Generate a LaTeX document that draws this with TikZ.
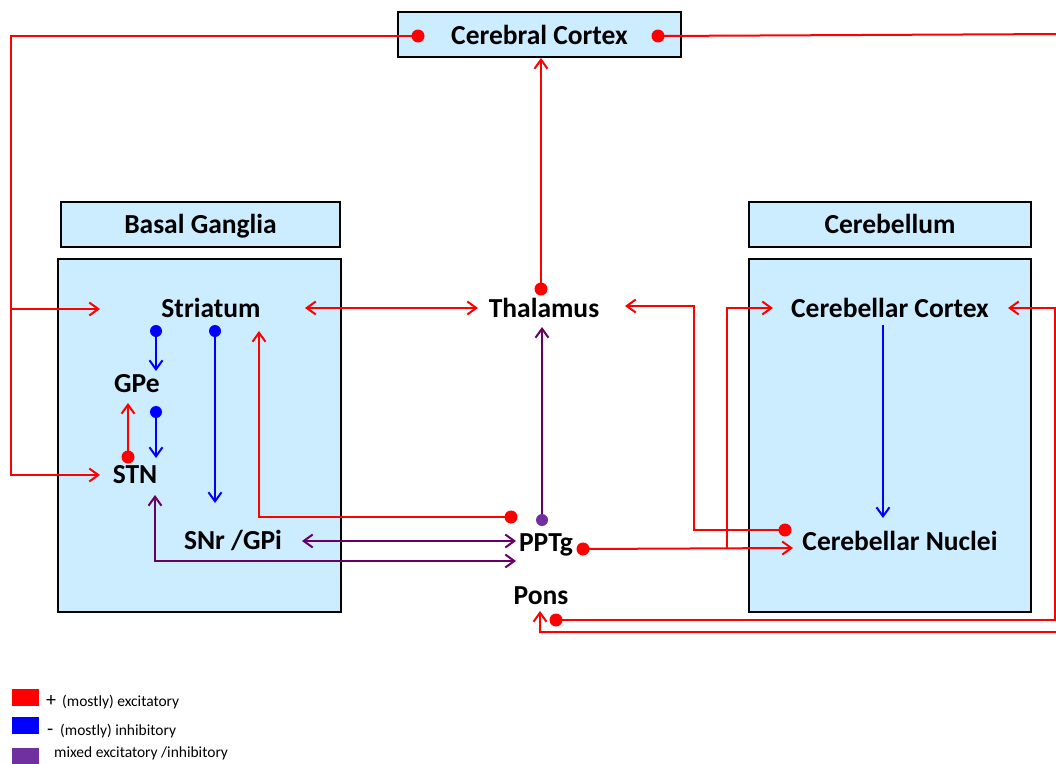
\documentclass[tikz,border=0pt]{standalone}
\usepackage{fontspec}
\setmainfont{Carlito}
\usetikzlibrary{arrows.meta}
\definecolor{boxblue}{RGB}{204,236,255}
\definecolor{ered}{RGB}{255,0,0}
\definecolor{iblue}{RGB}{0,0,255}
\definecolor{mpurple}{RGB}{102,0,102}
\definecolor{lpurple}{RGB}{112,48,160}
\begin{document}
\begin{tikzpicture}[x=1pt,y=-1pt,
  region/.style={draw=black,line width=2.2pt,fill=boxblue,inner sep=0pt},
  lbl/.style={font=\fontsize{27.5}{32}\selectfont\bfseries,inner sep=0pt},
  leg/.style={font=\fontsize{15.5}{18}\selectfont,inner sep=0pt,anchor=base west},
  tip/.style={-{Straight Barb[length=9pt,width=13pt,line width=2pt]}},
  tips/.style={{Straight Barb[length=9pt,width=13pt,line width=2pt]}-{Straight Barb[length=9pt,width=13pt,line width=2pt]}},
  exc/.style={draw=ered,line width=2pt},
  inh/.style={draw=iblue,line width=2pt},
  mix/.style={draw=mpurple,line width=2pt},
  rdot/.style={fill=ered},
  bdot/.style={fill=iblue},
  pdot/.style={fill=lpurple},
]
\useasboundingbox (0,0) rectangle (1056,763);

% boxes
\node[region,minimum width=283pt,minimum height=45pt] (cc) at (539.5,34.5) {};
\node[lbl,anchor=base] (cctxt) at (539.5,44) {Cerebral Cortex};
\node[region,minimum width=279pt,minimum height=45pt] (bglbl) at (200.5,224.5) {};
\node[lbl,anchor=base] (bgtxt) at (200.5,233) {Basal Ganglia};
\node[region,minimum width=283pt,minimum height=353pt] (bg) at (199.5,435.5) {};
\node[region,minimum width=282pt,minimum height=45pt] (cblbl) at (890,224.5) {};
\node[lbl,anchor=base] (cbtxt) at (890,233) {Cerebellum};
\node[region,minimum width=282pt,minimum height=353pt] (cb) at (890,435.5) {};

% labels
\node[lbl,anchor=base] (str) at (211,317) {Striatum};
\node[lbl,anchor=base] (thal) at (544,317) {Thalamus};
\node[lbl,anchor=base] (ccx) at (890,317) {Cerebellar Cortex};
\node[lbl,anchor=base] (gpe) at (137,392) {GPe};
\node[lbl,anchor=base] (stn) at (135,483) {STN};
\node[lbl,anchor=base] (snr) at (233,549) {SNr /GPi};
\node[lbl,anchor=base] (pptg) at (546,551) {PPTg};
\node[lbl,anchor=base] (cbn) at (900,550) {Cerebellar Nuclei};
\node[lbl,anchor=base] (pons) at (541,604) {Pons};

% coordinates
\coordinate (ccL) at (418,36);
\coordinate (ccR) at (658,36);
\coordinate (strIn) at (100,309);
\coordinate (stnIn) at (100,475);
\coordinate (strE) at (305,308);
\coordinate (thalW) at (478,308);
\coordinate (thalN) at (541,289);
\coordinate (ccS) at (541,58);
\coordinate (pptgR) at (511,517);
\coordinate (strS) at (259,331);
\coordinate (stnN) at (128,457);
\coordinate (gpeS) at (128,403);
\coordinate (cbnW) at (785,530);
\coordinate (thalE) at (625,306);
\coordinate (pptgE) at (583,549);
\coordinate (cbnIn) at (793,548);
\coordinate (ccxIn) at (773,308);
\coordinate (ponsE) at (556,620);
\coordinate (ccxE) at (1008,308);
\coordinate (ponsS) at (540,611);
\coordinate (strA) at (156,331);
\coordinate (gpeN) at (156,371);
\coordinate (strB) at (215,331);
\coordinate (snrN) at (215,503);
\coordinate (gpeB) at (156,412);
\coordinate (stnNb) at (156,458);
\coordinate (ccxS) at (883,325);
\coordinate (cbnN) at (883,518);
\coordinate (pptgP) at (542,520);
\coordinate (thalS) at (542,327);
\coordinate (snrE) at (302,541);
\coordinate (pptgW) at (516,541);
\coordinate (stnS) at (155,495);
\coordinate (pptgW2) at (516,561);

% excitatory connectors
\draw[exc,tip] (ccL) -- (11,36) -- (11,475) -- (stnIn);
\draw[exc,tip] (11,309) -- (strIn);
\draw[exc,tip] (ccR) -- (1064,34) -- (1064,632) -- (540,632) -- (ponsS);
\draw[exc,tips] (strE) -- (thalW);
\draw[exc,tip] (thalN) -- (ccS);
\draw[exc,tip] (pptgR) -- (259,517) -- (strS);
\draw[exc,tip] (stnN) -- (gpeS);
\draw[exc,tip] (cbnW) -- (694,530) -- (694,306) -- (thalE);
\draw[exc,tip] (pptgE) -- (cbnIn);
\draw[exc,tip] (727,548) -- (727,308) -- (ccxIn);
\draw[exc,tip] (ponsE) -- (1055,620) -- (1055,308) -- (ccxE);
\fill[rdot] (ccL) circle (6.5);
\fill[rdot] (ccR) circle (6.5);
\fill[rdot] (thalN) circle (6.5);
\fill[rdot] (pptgR) circle (6.5);
\fill[rdot] (stnN) circle (6.5);
\fill[rdot] (cbnW) circle (6.5);
\fill[rdot] (pptgE) circle (6.5);
\fill[rdot] (ponsE) circle (6.5);

% inhibitory connectors
\draw[inh,tip] (strA) -- (gpeN);
\draw[inh,tip] (strB) -- (snrN);
\draw[inh,tip] (gpeB) -- (stnNb);
\draw[inh,tip] (ccxS) -- (cbnN);
\fill[bdot] (strA) circle (6);
\fill[bdot] (strB) circle (6);
\fill[bdot] (gpeB) circle (6);

% mixed connectors
\draw[mix,tip] (pptgP) -- (thalS);
\fill[pdot] (pptgP) circle (6);
\draw[mix,tips] (snrE) -- (pptgW);
\draw[mix,tips] (stnS) -- (155,561) -- (pptgW2);

% legend
\fill[ered] (12,689) rectangle (39,706);
\fill[iblue] (12,717) rectangle (39,734);
\fill[lpurple] (12,748) rectangle (39,765);
\node[leg,font=\fontsize{20}{22}\selectfont] (lp) at (46,706) {+};
\node[leg] (l1) at (62,706) {(mostly) excitatory};
\node[leg,font=\fontsize{20}{22}\selectfont] (lm) at (47,735) {-};
\node[leg] (l2) at (60,735) {(mostly) inhibitory};
\node[leg] (l3) at (54,757) {mixed excitatory /inhibitory};
\end{tikzpicture}
\end{document}
